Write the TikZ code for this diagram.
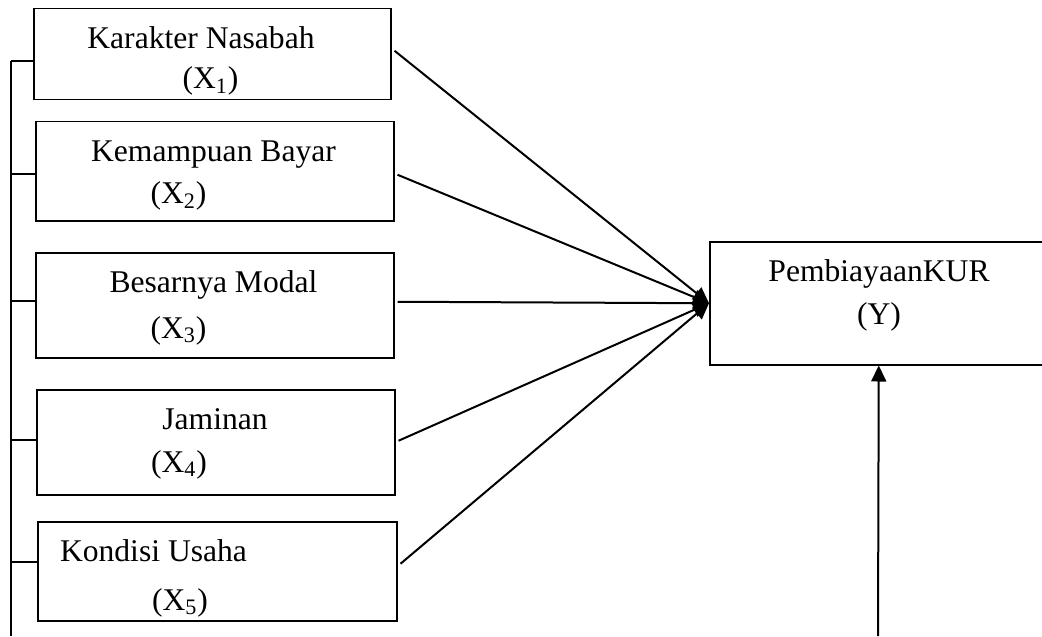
\documentclass[tikz,border=0pt]{standalone}
\usepackage{fontspec}
\setmainfont{Liberation Serif}
\usetikzlibrary{arrows.meta, positioning}

\begin{document}
\begin{tikzpicture}[
  x=0.5pt, y=-0.5pt,
  var/.style={rectangle, draw, line width=0.75pt, anchor=north west, inner sep=0pt},
  lbl/.style={anchor=base, inner sep=0pt, font=\fontsize{15.8}{18}\selectfont},
  arrow/.style={-{Triangle[length=8pt, width=7.5pt]}, line width=1pt},
  link/.style={line width=0.8pt}
]
\useasboundingbox (0,0) rectangle (1042,636);
% variabel X
\node[var, minimum width=178.5pt, minimum height=45.5pt] (x1) at (33,8) {};
\node[var, minimum width=179pt, minimum height=49.5pt] (x2) at (35,121) {};
\node[var, minimum width=179pt, minimum height=52.5pt] (x3) at (35,252) {};
\node[var, minimum width=179pt, minimum height=52.5pt] (x4) at (36,389) {};
\node[var, minimum width=179.5pt, minimum height=49.5pt] (x5) at (37,521) {};
% variabel Y
\node[var, minimum width=169pt, minimum height=61.5pt] (y) at (709,241) {};
% teks
\node[lbl] (x1n) at (201,49) {Karakter Nasabah};
\node[lbl] (x1s) at (210.5,89) {(X\textsubscript{1})};
\node[lbl] (x2n) at (213.5,162) {Kemampuan Bayar};
\node[lbl] (x2s) at (178.5,204) {(X\textsubscript{2})};
\node[lbl] (x3n) at (213.5,292) {Besarnya Modal};
\node[lbl] (x3s) at (178.5,338) {(X\textsubscript{3})};
\node[lbl] (x4n) at (215,429) {Jaminan};
\node[lbl] (x4s) at (179,472) {(X\textsubscript{4})};
\node[lbl] (x5n) at (153.5,561) {Kondisi Usaha};
\node[lbl] (x5s) at (180,610) {(X\textsubscript{5})};
\node[lbl] (yn) at (879,281) {PembiayaanKUR};
\node[lbl] (ys) at (879,324) {(Y)};
% panah X -> Y
\foreach \v/\dy in {x1/1.75, x2/-1.75, x3/1.75, x4/0.75, x5/3.75}
  \draw[arrow] ([xshift=1.5pt, yshift=\dy pt]\v.east) -- (y.west);
% garis kiri
\coordinate (bustop) at (11,61);
\coordinate (busend) at (11,636);
\draw[link] (bustop) -- (busend);
\foreach \v/\ty in {x1/61, x2/174, x3/301, x4/440, x5/562} {
  \coordinate (t\v) at (11,\ty);
  \draw[link] (t\v) -- (\v.west |- t\v);
}
% panah bawah
\coordinate (yfeed) at (878,636);
\draw[arrow] (yfeed) -- (y.south);
\end{tikzpicture}
\end{document}
